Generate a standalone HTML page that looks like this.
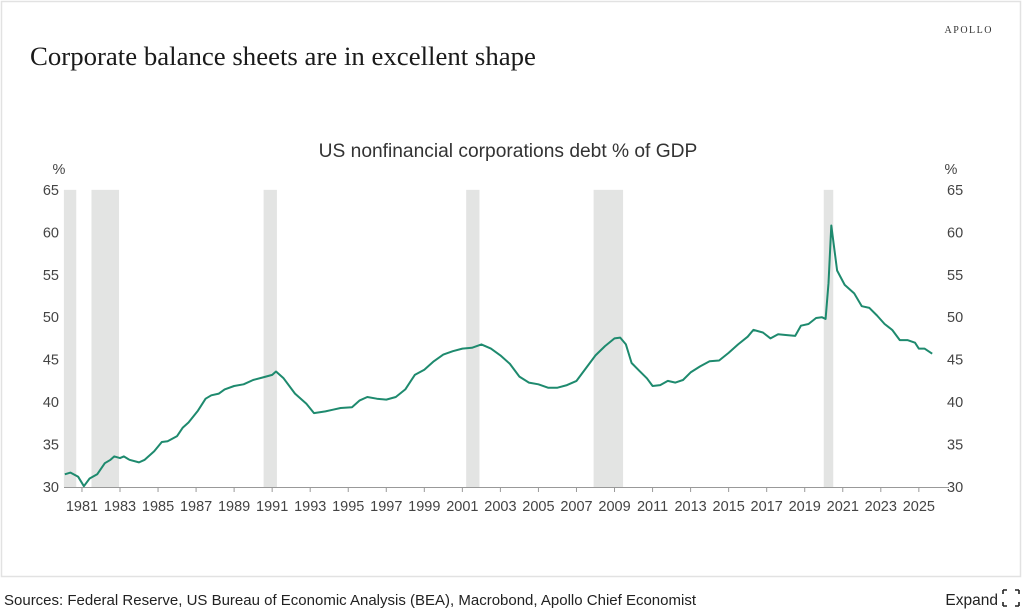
<!DOCTYPE html>
<html><head><meta charset="utf-8"><style>
html,body{margin:0;padding:0;background:#fff;width:1023px;height:611px;overflow:hidden;font-family:"Liberation Sans",sans-serif;}
</style></head><body>
<svg width="1023" height="611" xmlns="http://www.w3.org/2000/svg" font-family="Liberation Sans, sans-serif">
<rect x="1.5" y="1.5" width="1019" height="575" fill="#fff" stroke="#e2e2e2" stroke-width="1.5"/>
<text x="993" y="33" font-family="Liberation Serif, serif" font-size="10" letter-spacing="1.5" fill="#333" text-anchor="end">APOLLO</text>
<text x="30" y="65" font-family="Liberation Serif, serif" font-size="26.8" fill="#1a1a1a">Corporate balance sheets are in excellent shape</text>
<text x="508" y="157" font-size="19.2" fill="#333" text-anchor="middle">US nonfinancial corporations debt % of GDP</text>
<g id="rec" fill="#e3e4e3"></g>
<g id="ax" stroke="#999" stroke-width="1"></g>
<g id="lbl" font-size="14.5" fill="#444"></g>
<polyline id="ln" fill="none" stroke="#1e8a6e" stroke-width="2" stroke-linejoin="round"/>
<text x="4" y="605" font-size="15" fill="#222">Sources: Federal Reserve, US Bureau of Economic Analysis (BEA), Macrobond, Apollo Chief Economist</text>
<text x="998" y="605" font-size="15.5" fill="#222" text-anchor="end">Expand</text>
<g stroke="#222" stroke-width="1.6" fill="none">
<path d="M1003 590h4M1003 590v4M1019 590h-4M1019 590v4M1003 606h4M1003 606v-4M1019 606h-4M1019 606v-4"/>
</g>
</svg>
<script>
var X=function(y){return 120+(y-1983)*19.02},Y=function(v){return 487-(v-30)*8.49};
var ns="http://www.w3.org/2000/svg";
function el(p,t,a,txt){var e=document.createElementNS(ns,t);for(var k in a)e.setAttribute(k,a[k]);if(txt)e.textContent=txt;document.getElementById(p).appendChild(e);}
[[1980.05,1980.7],[1981.5,1982.95],[1990.55,1991.25],[2001.2,2001.9],[2007.9,2009.45],[2020.0,2020.5]].forEach(function(r){el("rec","rect",{x:X(r[0]),y:Y(65),width:X(r[1])-X(r[0]),height:Y(30)-Y(65)});});
el("ax","line",{x1:64,y1:487.5,x2:949,y2:487.5});
for(var yr=1981;yr<=2025;yr+=2){var x=X(yr);el("ax","line",{x1:x,y1:487,x2:x,y2:492});el("lbl","text",{x:x,y:511,"text-anchor":"middle"},""+yr);}
for(var v=30;v<=65;v+=5){el("lbl","text",{x:59,y:Y(v)+5,"text-anchor":"end"},""+v);el("lbl","text",{x:947,y:Y(v)+5,"text-anchor":"start"},""+v);}
el("lbl","text",{x:59,y:174,"text-anchor":"middle"},"%");el("lbl","text",{x:951,y:174,"text-anchor":"middle"},"%");
var d=[1980.1,31.5,1980.4,31.7,1980.8,31.2,1981.1,30.1,1981.4,31.0,1981.8,31.5,1982.2,32.8,1982.5,33.2,1982.7,33.6,1983.0,33.4,1983.2,33.6,1983.5,33.2,1984.0,32.9,1984.3,33.2,1984.8,34.2,1985.2,35.3,1985.5,35.4,1986.0,36.0,1986.3,37.0,1986.6,37.6,1987.1,39.0,1987.5,40.4,1987.8,40.8,1988.2,41.0,1988.5,41.5,1989.0,41.9,1989.5,42.1,1990.0,42.6,1990.5,42.9,1991.0,43.2,1991.2,43.6,1991.6,42.8,1992.2,41.0,1992.8,39.8,1993.2,38.7,1993.8,38.9,1994.2,39.1,1994.6,39.3,1995.2,39.4,1995.6,40.2,1996.0,40.6,1996.5,40.4,1997.0,40.3,1997.5,40.6,1998.0,41.5,1998.5,43.2,1999.0,43.8,1999.5,44.8,2000.0,45.6,2000.5,46.0,2001.0,46.3,2001.5,46.4,2002.0,46.8,2002.5,46.3,2003.0,45.5,2003.5,44.5,2004.0,43.0,2004.5,42.3,2005.0,42.1,2005.5,41.7,2006.0,41.7,2006.5,42.0,2007.0,42.5,2007.5,44.0,2008.0,45.5,2008.5,46.6,2009.0,47.5,2009.3,47.6,2009.6,46.8,2009.9,44.6,2010.3,43.7,2010.7,42.8,2011.0,41.9,2011.4,42.0,2011.8,42.5,2012.2,42.3,2012.6,42.6,2013.0,43.5,2013.5,44.2,2014.0,44.8,2014.5,44.9,2015.0,45.8,2015.5,46.8,2016.0,47.7,2016.3,48.5,2016.8,48.2,2017.2,47.5,2017.6,48.0,2018.0,47.9,2018.5,47.8,2018.8,49.0,2019.2,49.2,2019.6,49.9,2019.9,50.0,2020.1,49.8,2020.25,54,2020.4,60.8,2020.7,55.5,2021.1,53.8,2021.6,52.8,2022.0,51.3,2022.4,51.1,2022.8,50.2,2023.2,49.2,2023.6,48.5,2024.0,47.3,2024.4,47.3,2024.8,47.0,2025.0,46.3,2025.3,46.3,2025.7,45.7];
var p=[];for(var i=0;i<d.length;i+=2)p.push(X(d[i]).toFixed(1)+","+Y(d[i+1]).toFixed(1));
document.getElementById("ln").setAttribute("points",p.join(" "));
</script>
</body></html>
